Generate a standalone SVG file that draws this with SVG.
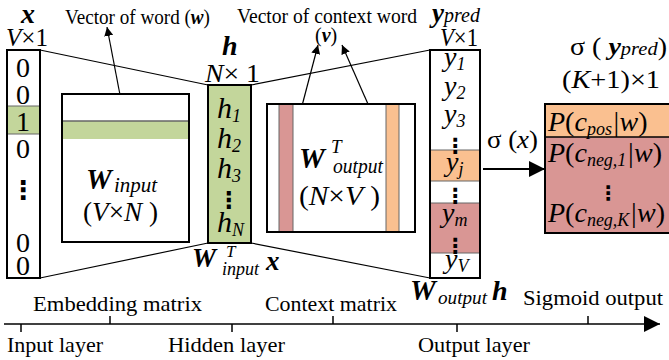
<svg xmlns="http://www.w3.org/2000/svg" width="669" height="360" viewBox="0 0 669 360">
<defs>
<style>
text{font-family:"Liberation Serif","Times New Roman",serif;fill:#000}
.i{font-style:italic}
.bi{font-style:italic;font-weight:bold}
.dots{font-family:"DejaVu Serif","DejaVu Sans",serif;font-weight:bold}
.box{fill:none;stroke:#000;stroke-width:2}
.sep{stroke:#666;stroke-width:1}
.conn{stroke:#000;stroke-width:1.2;fill:none}
.g{fill:#C3D69B}
.o{fill:#FAC090}
.r{fill:#D99694}
</style>
<marker id="ah" viewBox="0 0 10 10" refX="10" refY="5" markerWidth="9" markerHeight="9" markerUnits="userSpaceOnUse" orient="auto"><path d="M0,0 L10,5 L0,10 z" fill="#000"/></marker>
<marker id="ahb" viewBox="0 0 10 10" refX="10" refY="5" markerWidth="16" markerHeight="16" markerUnits="userSpaceOnUse" orient="auto"><path d="M0,0 L10,5 L0,10 z" fill="#000"/></marker>
</defs>
<rect width="669" height="360" fill="#fff"/>

<g id="connectors">
<line class="conn" x1="40" y1="50" x2="208" y2="85"/>
<line class="conn" x1="40" y1="278" x2="208" y2="243"/>
<line class="conn" x1="251" y1="85" x2="430" y2="50"/>
<line class="conn" x1="251" y1="243" x2="430" y2="278"/>
<line class="conn" x1="125" y1="121" x2="107" y2="27" marker-end="url(#ah)"/>
<line class="conn" x1="293" y1="140" x2="318" y2="45" marker-end="url(#ah)"/>
<line class="conn" x1="386" y1="145" x2="342" y2="45" marker-end="url(#ah)"/>
<line x1="483" y1="169" x2="545" y2="169" stroke="#000" stroke-width="2" marker-end="url(#ahb)"/>
</g>

<g id="x-vector">
<text x="21" y="23" class="bi" font-size="28">x</text>
<text x="6" y="46" font-size="26" textLength="42" lengthAdjust="spacingAndGlyphs"><tspan class="i">V</tspan>×1</text>
<rect x="7" y="106" width="33" height="28" class="g"/>
<line class="sep" x1="7" y1="106" x2="40" y2="106"/>
<line class="sep" x1="7" y1="134" x2="40" y2="134"/>
<rect x="7" y="50" width="33" height="228" class="box"/>
<g font-size="28" text-anchor="middle">
<text x="23" y="77">0</text>
<text x="23" y="104">0</text>
<text x="23" y="131">1</text>
<text x="23" y="158">0</text>
<text x="23" y="252">0</text>
<text x="23" y="275">0</text>
</g>
<text x="23" y="199" class="dots" font-size="26" text-anchor="middle">⋮</text>
</g>

<g id="w-input">
<rect x="62" y="94" width="127" height="148" fill="#fff"/>
<rect x="62" y="121" width="127" height="18" class="g"/>
<line x1="62" y1="121" x2="189" y2="121" stroke="#666" stroke-width="1.5"/>
<rect x="62" y="94" width="127" height="148" class="box"/>
<text x="86" y="189" class="bi" font-size="29">W</text>
<text x="114" y="192" class="i" font-size="21">input</text>
<text x="83" y="221" font-size="28" textLength="75" lengthAdjust="spacingAndGlyphs">(<tspan class="i">V</tspan>×<tspan class="i">N</tspan> )</text>
<text x="65" y="24" font-size="20" textLength="145" lengthAdjust="spacingAndGlyphs">Vector of word (<tspan class="bi">w</tspan>)</text>
</g>

<g id="h-vector">
<text x="222" y="55" class="bi" font-size="28">h</text>
<text x="205" y="82" font-size="26" textLength="55" lengthAdjust="spacingAndGlyphs"><tspan class="i">N</tspan>× 1</text>
<rect x="208" y="85" width="43" height="158" class="g"/>
<rect x="208" y="85" width="43" height="158" class="box"/>
<g class="i" font-size="30">
<text x="217" y="118">h<tspan font-size="18" dy="4">1</tspan></text>
<text x="217" y="148">h<tspan font-size="18" dy="4">2</tspan></text>
<text x="217" y="178">h<tspan font-size="18" dy="4">3</tspan></text>
<text x="217" y="232">h<tspan font-size="18" dy="4">N</tspan></text>
</g>
<text x="229" y="208" class="dots" font-size="23" text-anchor="middle">⋮</text>
<text x="192" y="267" class="bi" font-size="27">W</text>
<text x="226" y="257" class="i" font-size="17">T</text>
<text x="222" y="275" class="i" font-size="18">input</text>
<text x="266" y="270" class="bi" font-size="27">x</text>
</g>

<g id="w-output">
<rect x="267" y="104" width="148" height="128" fill="#fff"/>
<rect x="279" y="104" width="14" height="128" class="r"/>
<rect x="386" y="104" width="13" height="128" class="o"/>
<line class="sep" x1="279" y1="104" x2="279" y2="232"/>
<line class="sep" x1="293" y1="104" x2="293" y2="232"/>
<line class="sep" x1="386" y1="104" x2="386" y2="232"/>
<line class="sep" x1="399" y1="104" x2="399" y2="232"/>
<rect x="267" y="104" width="148" height="128" class="box"/>
<text x="299" y="168" class="bi" font-size="29">W</text>
<text x="331" y="153" class="i" font-size="19">T</text>
<text x="333" y="173" class="i" font-size="21" textLength="50" lengthAdjust="spacingAndGlyphs">output</text>
<text x="299" y="205" font-size="28" textLength="81" lengthAdjust="spacingAndGlyphs">(<tspan class="i">N</tspan>×<tspan class="i">V</tspan> )</text>
<text x="237" y="23" font-size="20" textLength="180" lengthAdjust="spacingAndGlyphs">Vector of context word</text>
<text x="315" y="42" font-size="20">(<tspan class="bi">v</tspan>)</text>
</g>

<g id="y-pred">
<text x="432" y="22" class="bi" font-size="27">y<tspan class="i" font-weight="normal" font-size="20">pred</tspan></text>
<text x="440" y="46" font-size="26" textLength="38" lengthAdjust="spacingAndGlyphs"><tspan class="i">V</tspan>×1</text>
<rect x="430" y="50" width="50" height="228" fill="#fff"/>
<rect x="430" y="150" width="50" height="31" class="o"/>
<rect x="430" y="203" width="50" height="50" class="r"/>
<line class="sep" x1="430" y1="150" x2="480" y2="150"/>
<line class="sep" x1="430" y1="181" x2="480" y2="181"/>
<line class="sep" x1="430" y1="203" x2="480" y2="203"/>
<line class="sep" x1="430" y1="253" x2="480" y2="253"/>
<rect x="430" y="50" width="50" height="228" class="box"/>
<g class="i" font-size="28">
<text x="444" y="66">y<tspan font-size="18" dy="4">1</tspan></text>
<text x="444" y="95">y<tspan font-size="18" dy="4">2</tspan></text>
<text x="444" y="123">y<tspan font-size="18" dy="4">3</tspan></text>
<text x="446" y="171">y<tspan font-size="18" dy="4">j</tspan></text>
<text x="442" y="222">y<tspan font-size="18" dy="4">m</tspan></text>
<text x="445" y="268">y<tspan font-size="18" dy="4">V</tspan></text>
</g>
<text x="455" y="153" class="dots" font-size="21" text-anchor="middle">⋮</text>
<text x="455" y="203" class="dots" font-size="21" text-anchor="middle">⋮</text>
<text x="455" y="253" class="dots" font-size="21" text-anchor="middle">⋮</text>
<text x="410" y="300" class="bi" font-size="29">W</text>
<text x="438" y="304" class="i" font-size="19" textLength="49" lengthAdjust="spacingAndGlyphs">output</text>
<text x="492" y="300" class="bi" font-size="28">h</text>
<text x="487" y="148" font-size="26" textLength="51" lengthAdjust="spacingAndGlyphs">σ (<tspan class="i">x</tspan>)</text>
</g>

<g id="sigmoid-output">
<text x="570" y="55" font-size="26" textLength="97" lengthAdjust="spacingAndGlyphs">σ ( <tspan class="bi">y</tspan><tspan class="i" font-size="19">pred</tspan>)</text>
<text x="562" y="88" font-size="26" textLength="98" lengthAdjust="spacingAndGlyphs">(<tspan class="i">K</tspan>+1)×1</text>
<rect x="545" y="104" width="130" height="33" class="o"/>
<rect x="545" y="137" width="130" height="96" class="r"/>
<line x1="545" y1="137" x2="675" y2="137" stroke="#000" stroke-width="1.5"/>
<rect x="545" y="104" width="130" height="129" class="box"/>
<g font-size="28">
<text x="548" y="131"><tspan class="i">P</tspan>(<tspan class="i">c<tspan font-size="18" dy="4">pos</tspan><tspan dy="-4">|w</tspan></tspan>)</text>
<text x="548" y="162"><tspan class="i">P</tspan>(<tspan class="i">c<tspan font-size="18" dy="4">neg,1</tspan><tspan dy="-4">|w</tspan></tspan>)</text>
<text x="548" y="222"><tspan class="i">P</tspan>(<tspan class="i">c<tspan font-size="18" dy="4">neg,K</tspan><tspan dy="-4">|w</tspan></tspan>)</text>
</g>
<text x="608" y="200" class="dots" font-size="20" text-anchor="middle">⋮</text>
</g>

<g id="axis">
<line x1="4" y1="324" x2="660" y2="324" stroke="#000" stroke-width="1.5" marker-end="url(#ahb)"/>
<g stroke="#000" stroke-width="1.5">
<line x1="21" y1="324" x2="21" y2="332"/>
<line x1="110" y1="316" x2="110" y2="324"/>
<line x1="232" y1="324" x2="232" y2="332"/>
<line x1="333" y1="316" x2="333" y2="324"/>
<line x1="457" y1="324" x2="457" y2="332"/>
<line x1="588" y1="316" x2="588" y2="324"/>
</g>
<g font-size="21">
<text x="33" y="311" textLength="169" lengthAdjust="spacingAndGlyphs">Embedding matrix</text>
<text x="265" y="311" textLength="132" lengthAdjust="spacingAndGlyphs">Context matrix</text>
<text x="523" y="305" textLength="140" lengthAdjust="spacingAndGlyphs">Sigmoid output</text>
<text x="7" y="352" textLength="96" lengthAdjust="spacingAndGlyphs">Input layer</text>
<text x="168" y="352" textLength="117" lengthAdjust="spacingAndGlyphs">Hidden layer</text>
<text x="418" y="352" textLength="112" lengthAdjust="spacingAndGlyphs">Output layer</text>
</g>
</g>
</svg>
